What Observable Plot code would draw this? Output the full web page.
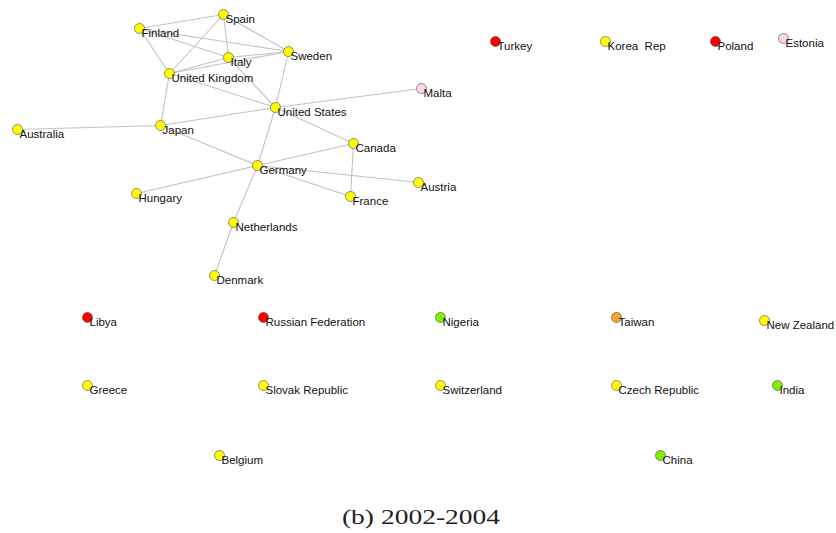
<!DOCTYPE html>
<html>
<head>
<meta charset="utf-8">
<script src="https://cdn.jsdelivr.net/npm/d3@7"></script>
<script src="https://cdn.jsdelivr.net/npm/@observablehq/plot@0.6"></script>
<style>
  body { margin: 0; background: #fff; }
  #chart svg { display: block; }
  #caption { width: 836px; height: 38px; position: relative; }
  #caption span {
    position: absolute; left: 421px; top: 9px;
    transform: translateX(-50%) scaleX(1.25);
    font-family: "Liberation Serif", "DejaVu Serif", serif;
    font-size: 22px; color: #222; white-space: nowrap;
  }
</style>
</head>
<body>
<div id="chart"></div>
<div id="caption"><span>(b) 2002-2004</span></div>
<script>
// Node names, layout positions and colour groups
const nodeNames = ["Spain","Finland","Italy","Sweden","United Kingdom","United States","Malta","Australia","Japan","Canada","Germany","Hungary","Austria","France","Netherlands","Denmark","Turkey","Korea\u00a0 Rep","Poland","Estonia","Libya","Russian Federation","Nigeria","Taiwan","New Zealand","Greece","Slovak Republic","Switzerland","Czech Republic","India","Belgium","China"];
const nodeX = [223,139,228,288,169,275,421,17,160,353,257,136,418,350,233,214,495,605,715,783,87,263,440,616,764,87,263,440,616,777,219,660];
const nodeY = [14,28,57,51,73,107,88,129,125,143,165,193,182,196,222,275,41,41,41,38,317,317,317,317,320,385,385,385,385,385,455,455];
const nodeGroup = ["G1","G1","G1","G1","G1","G1","G3","G1","G1","G1","G1","G1","G1","G1","G1","G1","G2","G1","G2","G3","G2","G2","G4","G5","G1","G1","G1","G1","G1","G4","G1","G4"];
const groupNames = ["G1","G2","G3","G4","G5"];
const groupColors = ["#ffff00","#ff0000","#ffd6ee","#80f000","#f5a630"];

// Edges
const edgeFrom = ["Spain","Spain","Spain","Spain","Finland","Finland","Finland","Italy","Italy","Italy","United Kingdom","United Kingdom","United Kingdom","Sweden","United States","United States","United States","United States","Australia","Japan","Germany","Germany","Germany","Germany","Germany","Canada","Netherlands"];
const edgeTo = ["Finland","Italy","Sweden","United Kingdom","Sweden","Italy","United Kingdom","Sweden","United Kingdom","United States","Sweden","United States","Japan","United States","Malta","Japan","Canada","Germany","Japan","Germany","Canada","Hungary","Austria","France","Netherlands","France","Denmark"];

const nodes = nodeNames.map((name, i) => ({name, x: nodeX[i], y: nodeY[i], group: nodeGroup[i]}));
const byName = new Map(nodes.map(d => [d.name, d]));
const edges = edgeFrom.map((f, i) => ({a: byName.get(f), b: byName.get(edgeTo[i])}));

const W = 836, H = 495;
const chart = Plot.plot({
  width: W, height: H,
  marginTop: 0, marginRight: 0, marginBottom: 0, marginLeft: 0,
  x: {domain: [0, W], range: [0, W], axis: null},
  y: {domain: [0, H], range: [0, H], axis: null},
  color: {type: "ordinal", domain: groupNames, range: groupColors},
  style: {background: "#fff", overflow: "visible"},
  marks: [
    Plot.link(edges, {x1: d => d.a.x, y1: d => d.a.y, x2: d => d.b.x, y2: d => d.b.y,
      stroke: "#c2c2c2", strokeWidth: 1.1}),
    Plot.dot(nodes, {x: "x", y: "y", r: 5, fill: "group", stroke: "#444", strokeWidth: 0.6, fillOpacity: 1}),
    Plot.text(nodes, {x: "x", y: "y", text: "name", dx: 2, dy: 5, textAnchor: "start", lineAnchor: "middle",
      fontSize: 11.5, fontFamily: "Liberation Sans, Arial, sans-serif", fill: "#111"})
  ]
});
document.getElementById("chart").appendChild(chart);
</script>
</body>
</html>
